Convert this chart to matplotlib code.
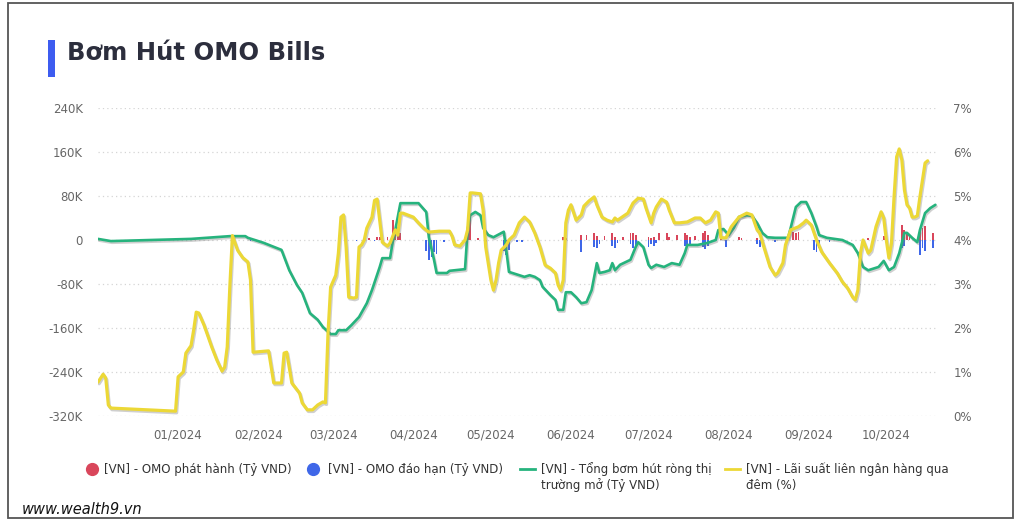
import matplotlib
matplotlib.use("Agg")
import matplotlib.pyplot as plt
import matplotlib.dates as mdates
import matplotlib.patheffects as pe
from matplotlib.lines import Line2D
from matplotlib.patches import Rectangle
from matplotlib.ticker import FuncFormatter, FixedLocator
import pandas as pd

plt.rcParams['font.family'] = ['DejaVu Sans']

# ---------------- data ----------------
rate_dates = [
    "2023-12-01", "2023-12-03", "2023-12-04", "2023-12-05", "2023-12-06", "2023-12-31",
    "2024-01-01", "2024-01-03", "2024-01-04", "2024-01-06", "2024-01-07", "2024-01-08",
    "2024-01-09", "2024-01-11", "2024-01-14", "2024-01-16", "2024-01-18", "2024-01-19",
    "2024-01-20", "2024-01-21", "2024-01-22", "2024-01-24", "2024-01-26", "2024-01-28",
    "2024-01-29", "2024-01-30",
    "2024-02-05", "2024-02-06", "2024-02-07", "2024-02-10", "2024-02-11", "2024-02-12",
    "2024-02-14", "2024-02-17", "2024-02-18", "2024-02-20", "2024-02-22", "2024-02-24",
    "2024-02-26", "2024-02-27", "2024-02-28", "2024-02-29",
    "2024-03-02", "2024-03-03", "2024-03-04", "2024-03-05", "2024-03-06", "2024-03-07",
    "2024-03-09", "2024-03-10", "2024-03-11", "2024-03-12", "2024-03-13", "2024-03-14",
    "2024-03-16", "2024-03-17", "2024-03-18", "2024-03-19", "2024-03-20", "2024-03-22",
    "2024-03-23", "2024-03-25", "2024-03-26", "2024-03-27", "2024-03-28",
    "2024-04-01", "2024-04-03", "2024-04-05", "2024-04-07", "2024-04-11", "2024-04-15",
    "2024-04-16", "2024-04-17", "2024-04-19", "2024-04-21", "2024-04-22", "2024-04-23",
    "2024-04-24", "2024-04-27", "2024-04-28", "2024-04-29",
    "2024-05-01", "2024-05-02", "2024-05-03", "2024-05-04", "2024-05-05", "2024-05-07",
    "2024-05-08", "2024-05-10", "2024-05-12", "2024-05-14", "2024-05-16", "2024-05-18",
    "2024-05-20", "2024-05-22", "2024-05-24", "2024-05-26", "2024-05-27", "2024-05-28",
    "2024-05-29", "2024-05-30", "2024-05-31",
    "2024-06-01", "2024-06-03", "2024-06-05", "2024-06-06", "2024-06-08", "2024-06-10",
    "2024-06-11", "2024-06-13", "2024-06-15", "2024-06-17", "2024-06-18", "2024-06-19",
    "2024-06-23", "2024-06-25", "2024-06-27", "2024-06-29", "2024-06-30",
    "2024-07-02", "2024-07-03", "2024-07-04", "2024-07-06", "2024-07-08", "2024-07-09",
    "2024-07-11", "2024-07-13", "2024-07-16", "2024-07-19", "2024-07-21", "2024-07-23",
    "2024-07-25", "2024-07-27", "2024-07-28", "2024-07-29", "2024-07-31",
    "2024-08-02", "2024-08-05", "2024-08-08", "2024-08-10", "2024-08-12", "2024-08-13",
    "2024-08-15", "2024-08-17", "2024-08-19", "2024-08-20", "2024-08-22", "2024-08-23",
    "2024-08-25", "2024-08-28", "2024-08-30", "2024-08-31",
    "2024-09-02", "2024-09-04", "2024-09-06", "2024-09-09", "2024-09-12", "2024-09-14",
    "2024-09-16", "2024-09-18", "2024-09-19", "2024-09-20", "2024-09-21", "2024-09-22",
    "2024-09-24", "2024-09-25", "2024-09-27", "2024-09-29", "2024-09-30",
    "2024-10-01", "2024-10-02", "2024-10-03", "2024-10-04", "2024-10-05", "2024-10-06",
    "2024-10-07", "2024-10-08", "2024-10-09", "2024-10-10", "2024-10-11", "2024-10-12",
    "2024-10-13", "2024-10-14", "2024-10-15", "2024-10-16", "2024-10-17",
]
rate_values = [
    0.77, 0.95, 0.86, 0.25, 0.18, 0.11,
    0.89, 1.00, 1.43, 1.60, 1.95, 2.36,
    2.34, 2.07, 1.57, 1.27, 1.02, 1.11,
    1.57, 2.93, 4.10, 3.77, 3.60, 3.50,
    3.09, 1.45,
    1.48, 1.11, 0.75, 0.75, 1.43, 1.45,
    0.75, 0.52, 0.30, 0.14, 0.14, 0.25,
    0.32, 0.30, 1.89, 2.93,
    3.20, 3.70, 4.52, 4.57, 3.84, 2.70,
    2.68, 2.70, 3.84, 3.89, 4.00, 4.27,
    4.52, 4.90, 4.93, 4.45, 3.95, 3.86,
    3.93, 4.23, 4.11, 4.61, 4.61,
    4.52, 4.39, 4.27, 4.18, 4.20, 4.20,
    4.09, 3.89, 3.86, 4.00, 4.23, 5.07,
    5.07, 5.05, 4.68, 3.84,
    3.09, 2.86, 3.09, 3.48, 3.77, 3.89,
    4.00, 4.11, 4.39, 4.52, 4.41, 4.16,
    3.84, 3.43, 3.36, 3.25, 2.98, 2.86,
    3.09, 4.39, 4.68,
    4.80, 4.45, 4.57, 4.77, 4.89, 4.98,
    4.80, 4.52, 4.45, 4.41, 4.50, 4.45,
    4.61, 4.84, 4.95, 4.93, 4.73,
    4.39, 4.61, 4.75, 4.93, 4.86, 4.68,
    4.39, 4.39, 4.41, 4.50, 4.50, 4.39,
    4.45, 4.64, 4.61, 4.05, 4.05,
    4.30, 4.52, 4.61, 4.57, 4.23, 4.16,
    3.77, 3.39, 3.20, 3.25, 3.48, 3.89,
    4.23, 4.30, 4.39, 4.45,
    4.34, 4.00, 3.73, 3.48, 3.25, 3.05,
    2.91, 2.70, 2.64, 2.86, 3.70, 4.00,
    3.70, 3.77, 4.30, 4.64, 4.50,
    4.00, 3.59, 3.93, 4.98, 5.89, 6.07,
    5.82, 5.14, 4.80, 4.73, 4.52, 4.52,
    4.55, 4.98, 5.36, 5.75, 5.80,
]

net_dates = [
    "2023-12-01", "2023-12-06", "2024-01-06", "2024-01-21", "2024-01-27", "2024-01-28",
    "2024-02-03", "2024-02-10", "2024-02-13", "2024-02-16", "2024-02-18", "2024-02-21",
    "2024-02-24", "2024-02-26", "2024-02-29", "2024-03-02", "2024-03-03", "2024-03-06",
    "2024-03-08", "2024-03-11", "2024-03-14", "2024-03-16", "2024-03-19", "2024-03-20",
    "2024-03-23", "2024-03-24", "2024-03-25", "2024-03-27", "2024-04-03", "2024-04-06",
    "2024-04-07", "2024-04-09", "2024-04-10", "2024-04-14", "2024-04-15", "2024-04-17",
    "2024-04-21", "2024-04-22", "2024-04-23", "2024-04-25", "2024-04-27", "2024-04-28",
    "2024-04-30", "2024-05-02", "2024-05-06", "2024-05-07", "2024-05-08", "2024-05-12",
    "2024-05-14", "2024-05-16", "2024-05-18", "2024-05-20", "2024-05-21", "2024-05-24",
    "2024-05-26", "2024-05-27", "2024-05-29", "2024-05-30", "2024-06-01", "2024-06-03",
    "2024-06-05", "2024-06-07", "2024-06-09", "2024-06-11", "2024-06-12", "2024-06-14",
    "2024-06-16", "2024-06-17", "2024-06-18", "2024-06-20", "2024-06-24", "2024-06-26",
    "2024-06-27", "2024-06-29", "2024-07-01", "2024-07-02", "2024-07-04", "2024-07-07",
    "2024-07-10", "2024-07-13", "2024-07-15", "2024-07-16", "2024-07-20", "2024-07-24",
    "2024-07-27", "2024-07-28", "2024-07-30", "2024-08-01", "2024-08-03", "2024-08-05",
    "2024-08-08", "2024-08-10", "2024-08-12", "2024-08-14", "2024-08-16", "2024-08-19",
    "2024-08-24", "2024-08-25", "2024-08-27", "2024-08-29", "2024-08-31", "2024-09-02",
    "2024-09-04", "2024-09-05", "2024-09-08", "2024-09-14", "2024-09-18", "2024-09-20",
    "2024-09-22", "2024-09-24", "2024-09-28", "2024-09-30", "2024-10-02", "2024-10-04",
    "2024-10-06", "2024-10-08", "2024-10-09", "2024-10-11", "2024-10-13", "2024-10-14",
    "2024-10-16", "2024-10-18", "2024-10-20",
]
net_values = [
    2, -2, 2, 7, 7, 4,
    -5, -18, -55, -82, -96, -133,
    -145, -158, -171, -171, -164, -164,
    -155, -140, -115, -91, -49, -33,
    -33, -4, 18, 67, 67, 51,
    5, -36, -60, -60, -56, -55,
    -53, 18, 45, 51, 45, 22,
    9, 5, 15, -20, -58, -64,
    -67, -64, -67, -73, -85, -100,
    -109, -127, -127, -95, -95, -104,
    -115, -113, -91, -42, -60, -58,
    -55, -42, -55, -45, -36, -13,
    -4, -13, -45, -51, -45, -49,
    -42, -45, -24, -9, -9, -5,
    0, 18, 20, 9, 22, 42,
    45, 44, 31, 13, 5, 4,
    4, 22, 60, 69, 69, 49,
    24, 9, 4, 0, -9, -24,
    -49, -55, -49, -38, -55, -49,
    -24, 13, 13, 4, -4, 18,
    49, 58, 64,
]

issue_dates = [
    "2024-03-15", "2024-03-18", "2024-03-19", "2024-03-22", "2024-03-24", "2024-03-25",
    "2024-03-26", "2024-03-27", "2024-04-22", "2024-04-23", "2024-04-26", "2024-05-29",
    "2024-05-30", "2024-06-05", "2024-06-07", "2024-06-10", "2024-06-11", "2024-06-14",
    "2024-06-17", "2024-06-18", "2024-06-21", "2024-06-24", "2024-06-25", "2024-06-26",
    "2024-07-01", "2024-07-02", "2024-07-03", "2024-07-05", "2024-07-08", "2024-07-09",
    "2024-07-12", "2024-07-15", "2024-07-16", "2024-07-17", "2024-07-19", "2024-07-22",
    "2024-07-23", "2024-07-24", "2024-07-29", "2024-08-05", "2024-08-06", "2024-08-12",
    "2024-08-26", "2024-08-27", "2024-08-28", "2024-09-24", "2024-09-30", "2024-10-07",
    "2024-10-08", "2024-10-09", "2024-10-10", "2024-10-14", "2024-10-15", "2024-10-16",
    "2024-10-19",
]
issue_values = [
    4, 6, 5, 6, 36, 15,
    24, 12, 13, 40, 4, 5,
    3, 9, 10, 13, 8, 8,
    12, 6, 6, 12, 13, 9,
    6, 4, 5, 13, 12, 6,
    10, 13, 9, 6, 8, 12,
    16, 10, 5, 6, 4, 3,
    15, 13, 15, 3, 8, 27,
    18, 14, 9, 18, 22, 25,
    13,
]

maturity_dates = [
    "2023-12-06", "2024-01-29", "2024-03-10", "2024-03-17", "2024-04-06", "2024-04-07",
    "2024-04-08", "2024-04-09", "2024-04-10", "2024-04-13", "2024-04-29", "2024-05-06",
    "2024-05-07", "2024-05-08", "2024-05-11", "2024-05-13", "2024-06-05", "2024-06-10",
    "2024-06-11", "2024-06-12", "2024-06-17", "2024-06-18", "2024-06-19", "2024-06-24",
    "2024-06-25", "2024-06-26", "2024-07-01", "2024-07-02", "2024-07-03", "2024-07-04",
    "2024-07-15", "2024-07-16", "2024-07-17", "2024-07-22", "2024-07-23", "2024-07-24",
    "2024-07-31", "2024-08-12", "2024-08-13", "2024-08-14", "2024-08-19", "2024-09-03",
    "2024-09-04", "2024-09-05", "2024-09-09", "2024-10-07", "2024-10-08", "2024-10-14",
    "2024-10-15", "2024-10-16", "2024-10-19",
]
maturity_values = [
    -2, -2, -2, -2, -20, -36,
    -30, -22, -25, -3, -3, -20,
    -27, -18, -3, -3, -22, -12,
    -15, -8, -10, -15, -6, -8,
    -15, -10, -13, -8, -10, -6,
    -10, -13, -8, -12, -16, -10,
    -13, -8, -12, -6, -3, -18,
    -22, -15, -3, -15, -10, -27,
    -15, -20, -15,
]

left_ticks = [-320, -240, -160, -80, 0, 80, 160, 240]
right_ticks = [0, 1, 2, 3, 4, 5, 6, 7]
month_ticks = ["2024-01-01", "2024-02-01", "2024-03-01", "2024-04-01", "2024-05-01",
               "2024-06-01", "2024-07-01", "2024-08-01", "2024-09-01", "2024-10-01"]

title = "Bơm Hút OMO Bills"
legend_labels = ["[VN] - OMO phát hành (Tỷ VND)",
                 "[VN] - OMO đáo hạn (Tỷ VND)",
                 "[VN] - Tổng bơm hút ròng thị\ntrường mở (Tỷ VND)",
                 "[VN] - Lãi suất liên ngân hàng qua\nđêm (%)"]

# ---------------- styles ----------------
C_RED = "#d9465b"
C_BLUE = "#3f67e8"
C_GREEN = "#26b37d"
C_YELLOW = "#ecd836"
C_TICK = "#666666"

W, H = 1023, 527
fig = plt.figure(figsize=(W / 100, H / 100), dpi=100)
fig.patch.set_facecolor("white")

# frame around card
fig.add_artist(Rectangle((8 / W, 1 - 518 / H), (1013 - 8) / W, (518 - 3) / H,
                         transform=fig.transFigure, fill=False,
                         edgecolor="#555555", linewidth=1.3))

ax = fig.add_axes([98 / W, 1 - 416 / H, (938 - 98) / W, (416 - 108) / H])
ax2 = ax.twinx()

idate = pd.to_datetime(issue_dates)
mdate = pd.to_datetime(maturity_dates)
ax.bar(idate, issue_values, width=0.7, color=C_RED, zorder=2)
ax.bar(mdate, maturity_values, width=0.7, color=C_BLUE, zorder=2)

shadow = [pe.SimpleLineShadow(offset=(0.8, -1.2), shadow_color="#777777", alpha=0.35),
          pe.Normal()]
ax.plot(pd.to_datetime(net_dates), net_values, color=C_GREEN, lw=1.9,
        solid_joinstyle="round", solid_capstyle="round", zorder=3,
        path_effects=shadow)
ax2.plot(pd.to_datetime(rate_dates), rate_values, color=C_YELLOW, lw=2.3,
         solid_joinstyle="round", solid_capstyle="round", zorder=3,
         path_effects=shadow)

ax.set_ylim(-320, 240)
ax2.set_ylim(0, 7)
ax.set_xlim(pd.Timestamp("2023-12-01"), pd.Timestamp("2024-10-21"))

ax.yaxis.set_major_locator(FixedLocator(left_ticks))
ax.yaxis.set_major_formatter(FuncFormatter(lambda v, p: "0" if v == 0 else f"{int(v)}K"))
ax2.yaxis.set_major_locator(FixedLocator(right_ticks))
ax2.yaxis.set_major_formatter(FuncFormatter(lambda v, p: f"{int(v)}%"))
ax.xaxis.set_major_locator(FixedLocator(mdates.date2num(pd.to_datetime(month_ticks))))
ax.xaxis.set_major_formatter(mdates.DateFormatter("%m/%Y"))

for a in (ax, ax2):
    for s in a.spines.values():
        s.set_visible(False)
    a.tick_params(length=0, labelsize=8.5, colors=C_TICK)
ax.tick_params(axis="y", pad=11)
ax2.tick_params(axis="y", pad=11)
ax.tick_params(axis="x", pad=9)

ax.grid(axis="y", linestyle=(0, (1, 2.5)), color="#d5d5d5", linewidth=0.9)
ax.grid(axis="x", visible=False)
ax.set_axisbelow(True)

# title
fig.add_artist(Rectangle((48 / W, 1 - 77 / H), 7 / W, 37 / H, transform=fig.transFigure,
                         facecolor="#3d5cf0", edgecolor="none"))
fig.text(67 / W, 1 - 53 / H, title, fontsize=17.5, fontweight="bold",
         color="#2c2e3d", va="center", ha="left")

# legend (manual)
ly1 = 1 - 469 / H
ly2 = 1 - 485 / H
fig.add_artist(Line2D([92 / W], [ly1], marker="o", markersize=8.5, color=C_RED,
                      linestyle="none", transform=fig.transFigure))
fig.add_artist(Line2D([313 / W], [ly1], marker="o", markersize=8.5, color=C_BLUE,
                      linestyle="none", transform=fig.transFigure))
fig.add_artist(Line2D([520 / W, 535 / W], [ly1, ly1], color=C_GREEN, lw=2,
                      transform=fig.transFigure))
fig.add_artist(Line2D([725 / W, 740 / W], [ly1, ly1], color=C_YELLOW, lw=2,
                      transform=fig.transFigure))
lkw = dict(fontsize=8.5, color="#333333", va="center", ha="left")
fig.text(104 / W, ly1, legend_labels[0], **lkw)
fig.text(328 / W, ly1, legend_labels[1], **lkw)
g1, g2 = legend_labels[2].split("\n")
y1, y2 = legend_labels[3].split("\n")
fig.text(541 / W, ly1, g1, **lkw)
fig.text(541 / W, ly2, g2, **lkw)
fig.text(746 / W, ly1, y1, **lkw)
fig.text(746 / W, ly2, y2, **lkw)

# watermark
fig.text(22 / W, 1 - 510 / H, "www.wealth9.vn", fontsize=10.5, style="italic",
         color="#111111", va="center", ha="left")

fig.savefig("out.png", dpi=100, facecolor="white")
